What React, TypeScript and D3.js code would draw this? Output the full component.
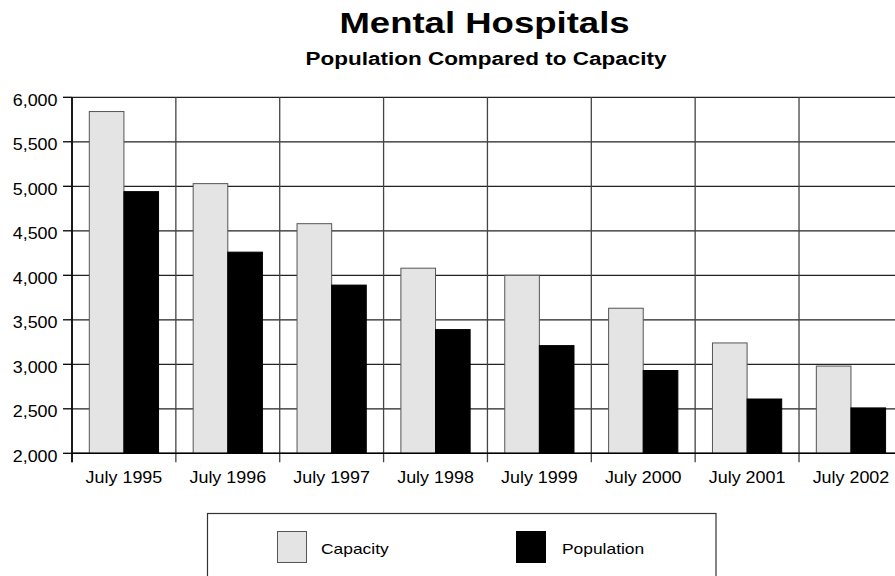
import React from "react";
import * as d3 from "d3";

const categories = ["July 1995", "July 1996", "July 1997", "July 1998", "July 1999", "July 2000", "July 2001", "July 2002"];
const seriesNames = ["Capacity", "Population"];
const capacity = [5840, 5030, 4580, 4080, 4000, 3630, 3240, 2980];
const population = [4940, 4260, 3890, 3390, 3210, 2930, 2610, 2510];
const yTicks = [2000, 2500, 3000, 3500, 4000, 4500, 5000, 5500, 6000];

const W = 895;
const H = 576;
const FONT = "'Liberation Sans', Arial, Helvetica, sans-serif";
const colors = ["#e4e4e4", "#000000"];

function T({ x, y, size, sx = 1.12, anchor = "start", weight = "normal", children }: any) {
  return (
    <text
      transform={`translate(${x},${y}) scale(${sx},1)`}
      textAnchor={anchor}
      fontSize={size}
      fontWeight={weight}
      fontFamily={FONT}
      fill="#000"
    >
      {children}
    </text>
  );
}

export default function App() {
  const x0 = 72;
  const step = 103.86;
  const x = d3.scaleBand<string>().domain(categories).range([x0, x0 + step * categories.length]).paddingInner(0).paddingOuter(0);
  const xs = d3.scaleBand<string>().domain(seriesNames).range([0, x.bandwidth()]).paddingInner(0).paddingOuter(0.5);
  const y = d3.scaleLinear().domain([2000, 6000]).range([453.3, 97.3]);
  const fmt = d3.format(",");
  const data = [capacity, population];
  const bottom = y(2000);
  const top = y(6000);

  return (
    <svg width={W} height={H} style={{ position: "absolute", left: 0, top: 0, display: "block", background: "#fff" }}>
      <rect x={0} y={0} width={W} height={H} fill="#fff" />
      <T x={484.5} y={33} size={29} sx={1.26} anchor="middle" weight="bold">Mental Hospitals</T>
      <T x={486} y={65} size={18} sx={1.25} anchor="middle" weight="bold">Population Compared to Capacity</T>

      {/* horizontal gridlines */}
      {yTicks.map((t) => (
        <g key={t}>
          <line x1={x0} x2={W} y1={y(t)} y2={y(t)} stroke="#222" strokeWidth={1.3} />
          <line x1={63} x2={x0} y1={y(t)} y2={y(t)} stroke="#000" strokeWidth={1.3} />
          <T x={57.5} y={y(t) + 8.5} size={16} sx={1.12} anchor="end">{fmt(t)}</T>
        </g>
      ))}

      {/* vertical gridlines */}
      {categories.map((c) => (
        <line key={c} x1={x(c)!} x2={x(c)!} y1={top} y2={bottom + 9} stroke="#444" strokeWidth={1.3} />
      ))}

      {/* bars */}
      {categories.map((c, i) => (
        <g key={c}>
          {seriesNames.map((s, j) => (
            <rect
              key={s}
              x={x(c)! + xs(s)!}
              y={y(data[j][i])}
              width={xs.bandwidth()}
              height={bottom - y(data[j][i])}
              fill={colors[j]}
              stroke={j === 0 ? "#555" : "#000"}
              strokeWidth={1}
            />
          ))}
          <T x={x(c)! + x.bandwidth() / 2} y={482.7} size={16} sx={1.12} anchor="middle">{c}</T>
        </g>
      ))}

      {/* axes */}
      <line x1={x0} x2={x0} y1={top} y2={bottom + 9} stroke="#000" strokeWidth={1.6} />
      <line x1={x0} x2={W} y1={bottom} y2={bottom} stroke="#000" strokeWidth={1.6} />

      {/* legend */}
      <rect x={207.5} y={513.5} width={508.5} height={90} fill="#fff" stroke="#333" strokeWidth={1.2} />
      <rect x={277.5} y={531.5} width={29} height={31} fill={colors[0]} stroke="#555" strokeWidth={1} />
      <T x={321} y={553.5} size={15} sx={1.16} anchor="start">{seriesNames[0]}</T>
      <rect x={516} y={531} width={30} height={32} fill={colors[1]} />
      <T x={562} y={553.5} size={15} sx={1.16} anchor="start">{seriesNames[1]}</T>
    </svg>
  );
}
